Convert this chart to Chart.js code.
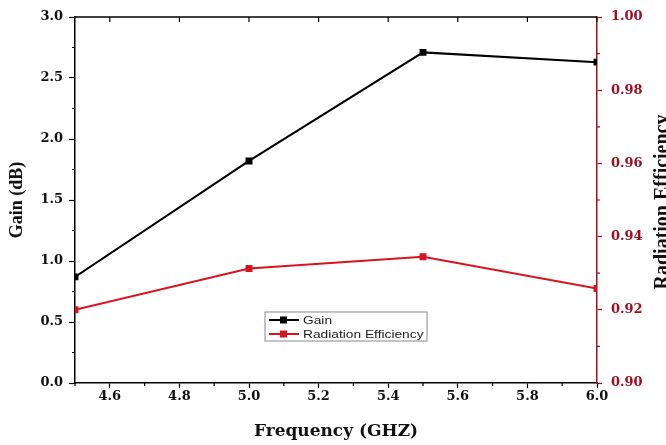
<!DOCTYPE html>
<html>
<head>
<meta charset="utf-8">
<script src="https://cdn.jsdelivr.net/npm/chart.js@4/dist/chart.umd.min.js"></script>
<style>
  html, body { margin: 0; padding: 0; background: #fff; }
  #wrap { width: 666px; height: 445px; position: relative; }
</style>
</head>
<body>
<div id="wrap"><canvas id="chart"></canvas></div>
<script>
// data
const frequency = [4.5, 5.0, 5.5, 6.0];
const gainValues = [0.87, 1.82, 2.71, 2.63];
const efficiencyValues = [0.920, 0.9313, 0.9345, 0.9258];

const xTicks = [4.6, 4.8, 5.0, 5.2, 5.4, 5.6, 5.8, 6.0];
const xMinorTicks = [4.5, 4.7, 4.9, 5.1, 5.3, 5.5, 5.7, 5.9];
const gainTicks = [0, 0.5, 1.0, 1.5, 2.0, 2.5, 3.0];
const gainMinorTicks = [0.25, 0.75, 1.25, 1.75, 2.25, 2.75];
const effTicks = [0.90, 0.92, 0.94, 0.96, 0.98, 1.00];
const effMinorTicks = [0.91, 0.93, 0.95, 0.97, 0.99];

const DARK_RED = '#9b1022';
const LINE_RED = '#d8141e';
// horizontal text in the figure is stretched wide, so a wider serif is used for it
const tickFont = { family: 'DejaVu Serif', size: 13, weight: 'bold' };
const xTitleFont = { family: 'DejaVu Serif', size: 17, weight: 'bold' };
const yTitleFont = { family: 'Liberation Serif', size: 18, weight: 'bold' };

const toPoints = (xs, ys) => xs.map((x, i) => ({ x: x, y: ys[i] }));
const fixTicks = list => scale => { scale.ticks = list.map(v => ({ value: v })); };

// minor ticks, top border, right title and the boxed legend
const decorations = {
    id: 'decorations',
    afterDraw(chart) {
        const ctx = chart.ctx;
        const area = chart.chartArea;
        const sx = chart.scales.x, sy = chart.scales.y, sy2 = chart.scales.y2;
        ctx.save();

        // top frame line with inward ticks
        ctx.strokeStyle = '#000';
        ctx.lineWidth = 1.5;
        ctx.beginPath();
        ctx.moveTo(area.left, area.top);
        ctx.lineTo(area.right, area.top);
        ctx.stroke();
        ctx.lineWidth = 1.2;
        ctx.beginPath();
        xTicks.forEach(v => {
            const px = sx.getPixelForValue(v);
            ctx.moveTo(px, area.top);
            ctx.lineTo(px, area.top + 5);
        });
        ctx.stroke();

        // minor ticks
        ctx.beginPath();
        xMinorTicks.forEach(v => {
            const px = sx.getPixelForValue(v);
            ctx.moveTo(px, area.bottom);
            ctx.lineTo(px, area.bottom + 3);
        });
        gainMinorTicks.forEach(v => {
            const py = sy.getPixelForValue(v);
            ctx.moveTo(area.left, py);
            ctx.lineTo(area.left - 3, py);
        });
        ctx.stroke();
        ctx.strokeStyle = DARK_RED;
        ctx.beginPath();
        effMinorTicks.forEach(v => {
            const py = sy2.getPixelForValue(v);
            ctx.moveTo(area.right, py);
            ctx.lineTo(area.right + 3, py);
        });
        ctx.stroke();

        // right axis title, reading bottom to top
        ctx.fillStyle = '#111';
        ctx.font = 'bold 20px "Liberation Serif"';
        ctx.textAlign = 'center';
        ctx.textBaseline = 'middle';
        ctx.translate(663, (area.top + area.bottom) / 2 + 2);
        ctx.rotate(-Math.PI / 2);
        ctx.fillText('Radiation Efficiency', 0, 0);
        ctx.setTransform(1, 0, 0, 1, 0, 0);

        // legend box inside the plot
        const w = area.right - area.left, h = area.bottom - area.top;
        const lx = area.left + 0.364 * w, ly = area.top + 0.806 * h;
        const bw = 162, bh = 29;
        ctx.strokeStyle = '#888';
        ctx.lineWidth = 1;
        ctx.strokeRect(lx, ly, bw, bh);
        ctx.font = '11px "Liberation Sans"';
        ctx.textAlign = 'left';
        chart.data.datasets.forEach((ds, i) => {
            const yy = ly + 8 + i * 14;
            ctx.strokeStyle = ds.borderColor;
            ctx.lineWidth = 2;
            ctx.beginPath();
            ctx.moveTo(lx + 4, yy);
            ctx.lineTo(lx + 34, yy);
            ctx.stroke();
            ctx.fillStyle = ds.backgroundColor;
            ctx.fillRect(lx + 15, yy - 3.5, 7, 7);
            ctx.fillStyle = '#222';
            ctx.save();
            ctx.translate(lx + 38, yy + 1);
            ctx.scale(1.25, 1);
            ctx.fillText(ds.label, 0, 0);
            ctx.restore();
        });
        ctx.restore();
    }
};

new Chart(document.getElementById('chart'), {
    type: 'line',
    data: {
        datasets: [
            {
                label: 'Gain',
                data: toPoints(frequency, gainValues),
                yAxisID: 'y',
                borderColor: '#000',
                backgroundColor: '#000',
                borderWidth: 2,
                pointStyle: 'rect',
                pointRadius: 3.5,
                tension: 0
            },
            {
                label: 'Radiation Efficiency',
                data: toPoints(frequency, efficiencyValues),
                yAxisID: 'y2',
                borderColor: LINE_RED,
                backgroundColor: LINE_RED,
                borderWidth: 2,
                pointStyle: 'rect',
                pointRadius: 3.5,
                tension: 0
            }
        ]
    },
    options: {
        responsive: true,
        maintainAspectRatio: false,
        animation: false,
        layout: { padding: { top: 17, left: 0, right: 0, bottom: 0 } },
        plugins: {
            legend: { display: false },
            tooltip: { enabled: false }
        },
        scales: {
            x: {
                type: 'linear',
                min: 4.5,
                max: 6.0,
                afterBuildTicks: fixTicks(xTicks),
                afterFit: s => { s.height = 62; },
                grid: { drawOnChartArea: false, tickLength: 5, color: '#000', tickWidth: 1.2 },
                border: { color: '#000', width: 1.5 },
                ticks: {
                    font: tickFont,
                    color: '#111',
                    padding: 1,
                    maxRotation: 0,
                    callback: v => v.toFixed(1)
                },
                title: {
                    display: true,
                    text: 'Frequency (GHZ)',
                    font: xTitleFont,
                    color: '#111',
                    padding: { top: 0, bottom: 3 }
                }
            },
            y: {
                position: 'left',
                min: 0,
                max: 3.0,
                afterBuildTicks: fixTicks(gainTicks),
                afterFit: s => { s.width = 75; },
                grid: { drawOnChartArea: false, tickLength: 6, color: '#000', tickWidth: 1.2 },
                border: { color: '#000', width: 1.5 },
                ticks: {
                    font: tickFont,
                    color: '#111',
                    padding: 6,
                    callback: v => v.toFixed(1)
                },
                title: {
                    display: true,
                    text: 'Gain (dB)',
                    font: yTitleFont,
                    color: '#111',
                    padding: { top: 7, bottom: 0 }
                }
            },
            y2: {
                position: 'right',
                min: 0.90,
                max: 1.00,
                afterBuildTicks: fixTicks(effTicks),
                afterFit: s => { s.width = 69; },
                grid: { drawOnChartArea: false, tickLength: 5, color: DARK_RED, tickWidth: 1.2 },
                border: { color: DARK_RED, width: 1.5 },
                ticks: {
                    font: tickFont,
                    color: DARK_RED,
                    padding: 9,
                    callback: v => v.toFixed(2)
                }
            }
        }
    },
    plugins: [decorations]
});
</script>
</body>
</html>
